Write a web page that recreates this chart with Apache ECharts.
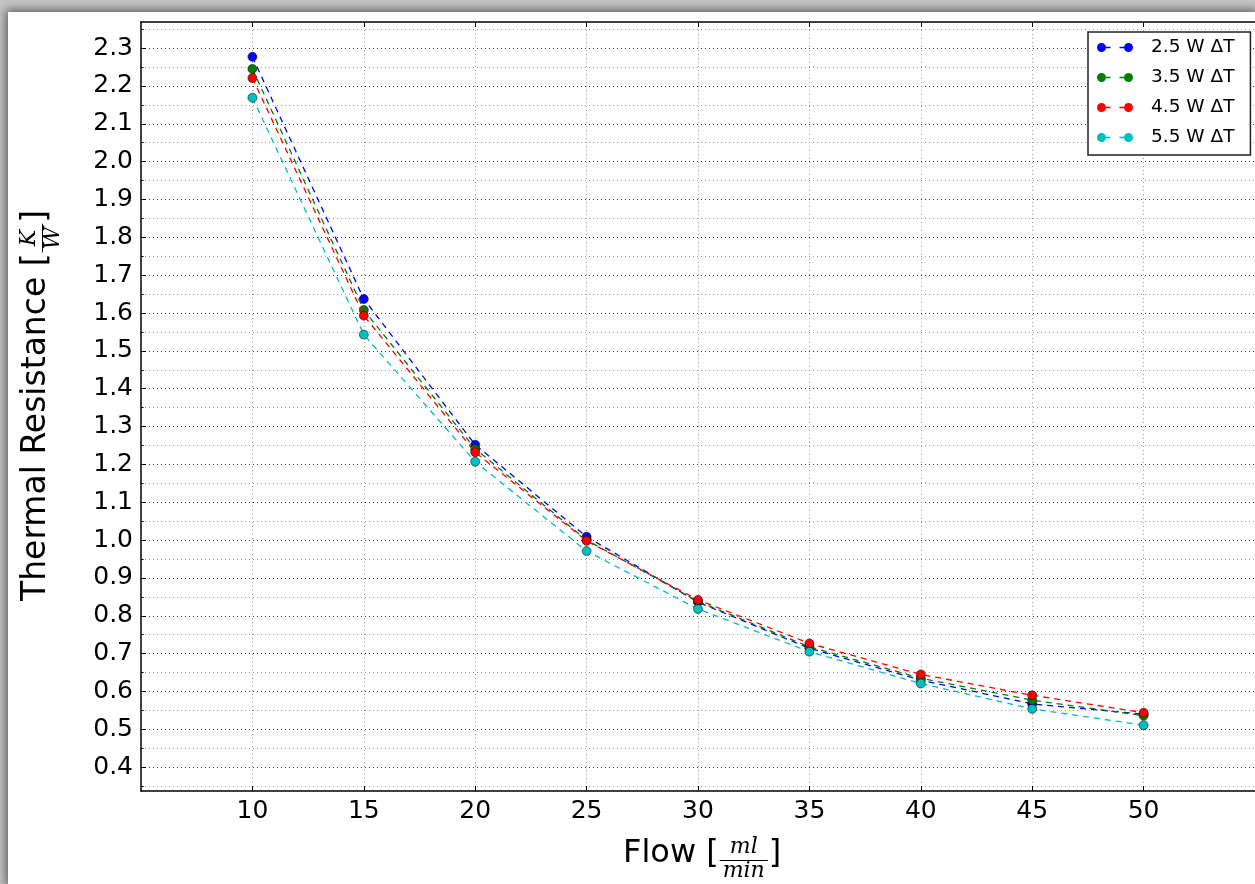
<!DOCTYPE html>
<html>
<head>
<meta charset="utf-8">
<script src="https://cdn.jsdelivr.net/npm/echarts@6/dist/echarts.min.js"></script>
<style>
html,body{margin:0;padding:0;width:1255px;height:884px;overflow:hidden;background:#c4c4c4;}
#chart{position:absolute;left:8px;top:12px;width:1247px;height:872px;background:#ffffff;box-shadow:0 0 9px 2px rgba(0,0,0,0.55);}
</style>
</head>
<body>
<div id="chart"></div>
<script>
// ---- data ----
const flow = [10, 15, 20, 25, 30, 35, 40, 45, 50];
const seriesNames = ['2.5 W ΔT', '3.5 W ΔT', '4.5 W ΔT', '5.5 W ΔT'];
const r25 = [2.277, 1.637, 1.252, 1.009, 0.836, 0.714, 0.630, 0.567, 0.540];
const r35 = [2.245, 1.608, 1.241, 1.000, 0.838, 0.718, 0.635, 0.577, 0.536];
const r45 = [2.221, 1.593, 1.232, 0.998, 0.842, 0.727, 0.645, 0.590, 0.544];
const r55 = [2.169, 1.543, 1.207, 0.971, 0.818, 0.705, 0.621, 0.554, 0.511];
const xTickValues = [10, 15, 20, 25, 30, 35, 40, 45, 50];
const yMajorTicks = [0.4, 0.5, 0.6, 0.7, 0.8, 0.9, 1.0, 1.1, 1.2, 1.3, 1.4, 1.5, 1.6, 1.7, 1.8, 1.9, 2.0, 2.1, 2.2, 2.3];
const yMinorTicks = [0.35, 0.45, 0.55, 0.65, 0.75, 0.85, 0.95, 1.05, 1.15, 1.25, 1.35, 1.45, 1.55, 1.65, 1.75, 1.85, 1.95, 2.05, 2.15, 2.25, 2.35];
const xRange = [5, 55];
const yRange = [0.337, 2.369];
const xTitle = ['Flow', 'ml', 'min'];
const yTitle = ['Thermal Resistance', 'K', 'W'];

// ---- styling ----
const colors = ['#0000ff', '#008000', '#ff0000', '#00bfbf'];
const FONT = '"DejaVu Sans", "Liberation Sans", sans-serif';
const MATH = '"DejaVu Serif", "Liberation Serif", serif';

const mctx = document.createElement('canvas').getContext('2d');
function measure(text, font) { mctx.font = font; return mctx.measureText(text).width; }

function buildTitle(parts, x, y, rotation, mainSize) {
  const fracSize = 22;
  const mainFont = mainSize + 'px ' + FONT;
  const fracFont = 'italic ' + fracSize + 'px ' + MATH;
  const first = parts[0] + ' [';
  const w1 = measure(first, mainFont);
  const fw = Math.max(measure(parts[1], fracFont), measure(parts[2], fracFont)) + 6;
  const fx = w1 + 1;
  const txt = (t, tx, ty, font, align) => ({
    type: 'text', x: tx, y: ty,
    style: { text: t, font: font, fill: '#000', align: align, verticalAlign: 'middle' }
  });
  return {
    type: 'group', x: x, y: y, rotation: rotation,
    children: [
      txt(first, 0, 0, mainFont, 'left'),
      txt(parts[1], fx + fw / 2, -7, fracFont, 'center'),
      { type: 'line', shape: { x1: fx, y1: 6.5, x2: fx + fw, y2: 6.5 }, style: { stroke: '#000', lineWidth: 1 } },
      txt(parts[2], fx + fw / 2, 17, fracFont, 'center'),
      txt(']', fx + fw + 1, 0, mainFont, 'left')
    ]
  };
}

const legendIcon = 'path://M0,4.5a4.5,4.5 0 1,0 9,0a4.5,4.5 0 1,0 -9,0Z M9,3.8h4.5v1.4h-4.5Z M22.5,3.8h4.5v1.4h-4.5Z M27,4.5a4.5,4.5 0 1,0 9,0a4.5,4.5 0 1,0 -9,0Z';

const allData = [r25, r35, r45, r55];
const series = allData.map((vals, i) => ({
  name: seriesNames[i],
  type: 'line',
  xAxisIndex: 0,
  yAxisIndex: 0,
  data: flow.map((f, j) => [f, vals[j]]),
  symbol: 'circle',
  symbolSize: 9,
  z: 3 + i,
  lineStyle: { color: colors[i], width: 1.3, type: [6, 5] },
  itemStyle: { color: colors[i], borderColor: 'rgba(0,0,0,0.65)', borderWidth: 0.8 },
  emphasis: { disabled: true }
}));

const chart = echarts.init(document.getElementById('chart'), null, { renderer: 'canvas' });
chart.setOption({
  animation: false,
  backgroundColor: '#ffffff',
  grid: { left: 133, top: 10, width: 1119, height: 769, show: false },
  legend: {
    orient: 'vertical',
    left: 1080, top: 20,
    data: seriesNames.map(n => ({ name: n, icon: legendIcon })),
    itemWidth: 36, itemHeight: 9, itemGap: 11,
    padding: [6, 16, 8, 9],
    borderColor: '#222', borderWidth: 1.5,
    backgroundColor: '#ffffff',
    itemStyle: { borderWidth: 0 },
    textStyle: { fontFamily: FONT, fontSize: 18.5, color: '#000', padding: [0, 0, 0, 13] },
    selectedMode: false
  },
  xAxis: [
    {
      type: 'value', min: xRange[0], max: xRange[1], position: 'bottom',
      axisLine: { show: true, onZero: false, lineStyle: { color: '#000', width: 1.5 } },
      axisTick: { show: true, inside: true, length: 5, customValues: xTickValues, lineStyle: { color: '#000' } },
      axisLabel: { show: true, customValues: xTickValues, fontFamily: FONT, fontSize: 25, color: '#000', margin: 8 },
      splitLine: { show: true, lineStyle: { color: '#9a9a9a', width: 1, type: [1, 3] } }
    },
    {
      type: 'value', min: xRange[0], max: xRange[1], position: 'top',
      axisLine: { show: true, onZero: false, lineStyle: { color: '#000', width: 1.5 } },
      axisTick: { show: true, inside: true, length: 5, customValues: xTickValues, lineStyle: { color: '#000' } },
      axisLabel: { show: false },
      splitLine: { show: false }
    }
  ],
  yAxis: [
    {
      type: 'value', min: yRange[0], max: yRange[1], position: 'left',
      axisLine: { show: true, onZero: false, lineStyle: { color: '#000', width: 1.5 } },
      axisTick: { show: true, inside: true, length: 5, customValues: yMajorTicks, lineStyle: { color: '#000' } },
      axisLabel: { show: true, customValues: yMajorTicks, formatter: v => v.toFixed(1), fontFamily: FONT, fontSize: 25, color: '#000', margin: 8 },
      splitLine: { show: true, lineStyle: { color: '#333333', width: 1, type: [1, 3] } }
    },
    {
      type: 'value', min: yRange[0], max: yRange[1], position: 'left',
      axisLine: { show: false },
      axisTick: { show: true, inside: true, length: 2.5, customValues: yMinorTicks, lineStyle: { color: '#000' } },
      axisLabel: { show: false },
      splitLine: { show: true, lineStyle: { color: '#9a9a9a', width: 1, type: [1, 3] } }
    }
  ],
  graphic: [
    buildTitle(xTitle, 615, 842, 0, 32),
    buildTitle(yTitle, 28, 589, Math.PI / 2, 33)
  ],
  series: series
});
</script>
</body>
</html>
